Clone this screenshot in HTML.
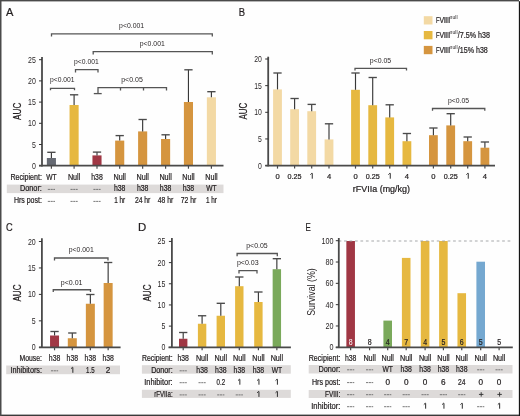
<!DOCTYPE html>
<html><head><meta charset="utf-8"><style>
html,body{margin:0;padding:0;background:#fff;}
body{width:520px;height:416px;overflow:hidden;}
svg{display:block;font-family:"Liberation Sans", sans-serif;}
text.t{stroke:#231f20;stroke-width:0.22px;}
text.k{stroke:none;}
svg{will-change:transform;}
</style></head><body>
<svg width="520" height="416" viewBox="0 0 520 416">
<rect x="0" y="0" width="520" height="416" fill="#fefefe"/>
<text class="t" x="5.90" y="15.90" font-size="11" fill="#231f20" textLength="7.40" lengthAdjust="spacingAndGlyphs" >A</text>
<rect x="46.85" y="158.00" width="9.10" height="7.70" fill="#666a73"/>
<line x1="51.40" y1="152.30" x2="51.40" y2="158.00" stroke="#383838" stroke-width="1.15" />
<line x1="47.25" y1="152.30" x2="55.55" y2="152.30" stroke="#4a4a4a" stroke-width="1.35" />
<rect x="69.55" y="105.00" width="9.10" height="60.70" fill="#e6b840"/>
<line x1="74.10" y1="94.80" x2="74.10" y2="105.00" stroke="#383838" stroke-width="1.15" />
<line x1="69.95" y1="94.80" x2="78.25" y2="94.80" stroke="#4a4a4a" stroke-width="1.35" />
<rect x="92.45" y="155.40" width="9.10" height="10.30" fill="#a03744"/>
<line x1="97.00" y1="152.10" x2="97.00" y2="155.40" stroke="#383838" stroke-width="1.15" />
<line x1="92.85" y1="152.10" x2="101.15" y2="152.10" stroke="#4a4a4a" stroke-width="1.35" />
<rect x="115.15" y="140.60" width="9.10" height="25.10" fill="#d5953f"/>
<line x1="119.70" y1="135.60" x2="119.70" y2="140.60" stroke="#383838" stroke-width="1.15" />
<line x1="115.55" y1="135.60" x2="123.85" y2="135.60" stroke="#4a4a4a" stroke-width="1.35" />
<rect x="138.10" y="131.40" width="9.10" height="34.30" fill="#d5953f"/>
<line x1="142.65" y1="119.50" x2="142.65" y2="131.40" stroke="#383838" stroke-width="1.15" />
<line x1="138.50" y1="119.50" x2="146.80" y2="119.50" stroke="#4a4a4a" stroke-width="1.35" />
<rect x="161.05" y="139.00" width="9.10" height="26.70" fill="#d5953f"/>
<line x1="165.60" y1="134.80" x2="165.60" y2="139.00" stroke="#383838" stroke-width="1.15" />
<line x1="161.45" y1="134.80" x2="169.75" y2="134.80" stroke="#4a4a4a" stroke-width="1.35" />
<rect x="183.90" y="102.00" width="9.10" height="63.70" fill="#d5953f"/>
<line x1="188.45" y1="69.80" x2="188.45" y2="102.00" stroke="#383838" stroke-width="1.15" />
<line x1="184.30" y1="69.80" x2="192.60" y2="69.80" stroke="#4a4a4a" stroke-width="1.35" />
<rect x="206.85" y="97.30" width="9.10" height="68.40" fill="#f3d9a4"/>
<line x1="211.40" y1="91.70" x2="211.40" y2="97.30" stroke="#383838" stroke-width="1.15" />
<line x1="207.25" y1="91.70" x2="215.55" y2="91.70" stroke="#4a4a4a" stroke-width="1.35" />
<line x1="51.40" y1="165.70" x2="51.40" y2="168.70" stroke="#4a4a4a" stroke-width="1.2" />
<line x1="74.10" y1="165.70" x2="74.10" y2="168.70" stroke="#4a4a4a" stroke-width="1.2" />
<line x1="97.00" y1="165.70" x2="97.00" y2="168.70" stroke="#4a4a4a" stroke-width="1.2" />
<line x1="119.70" y1="165.70" x2="119.70" y2="168.70" stroke="#4a4a4a" stroke-width="1.2" />
<line x1="142.65" y1="165.70" x2="142.65" y2="168.70" stroke="#4a4a4a" stroke-width="1.2" />
<line x1="165.60" y1="165.70" x2="165.60" y2="168.70" stroke="#4a4a4a" stroke-width="1.2" />
<line x1="188.45" y1="165.70" x2="188.45" y2="168.70" stroke="#4a4a4a" stroke-width="1.2" />
<line x1="211.40" y1="165.70" x2="211.40" y2="168.70" stroke="#4a4a4a" stroke-width="1.2" />
<line x1="42.00" y1="57.00" x2="42.00" y2="166.45" stroke="#4a4a4a" stroke-width="1.8" />
<line x1="39.00" y1="165.70" x2="42.00" y2="165.70" stroke="#333" stroke-width="1.0" />
<text class="k" x="32.00" y="168.70" font-size="9" fill="#231f20" textLength="3.90" lengthAdjust="spacingAndGlyphs">0</text>
<line x1="39.00" y1="144.50" x2="42.00" y2="144.50" stroke="#333" stroke-width="1.0" />
<text class="k" x="32.00" y="147.50" font-size="9" fill="#231f20" textLength="3.90" lengthAdjust="spacingAndGlyphs">5</text>
<line x1="39.00" y1="123.30" x2="42.00" y2="123.30" stroke="#333" stroke-width="1.0" />
<text class="k" x="28.10" y="126.30" font-size="9" fill="#231f20" textLength="7.80" lengthAdjust="spacingAndGlyphs">10</text>
<line x1="39.00" y1="102.10" x2="42.00" y2="102.10" stroke="#333" stroke-width="1.0" />
<text class="k" x="28.10" y="105.10" font-size="9" fill="#231f20" textLength="7.80" lengthAdjust="spacingAndGlyphs">15</text>
<line x1="39.00" y1="80.90" x2="42.00" y2="80.90" stroke="#333" stroke-width="1.0" />
<text class="k" x="28.10" y="83.90" font-size="9" fill="#231f20" textLength="7.80" lengthAdjust="spacingAndGlyphs">20</text>
<line x1="39.00" y1="59.70" x2="42.00" y2="59.70" stroke="#333" stroke-width="1.0" />
<text class="k" x="28.10" y="62.70" font-size="9" fill="#231f20" textLength="7.80" lengthAdjust="spacingAndGlyphs">25</text>
<line x1="39.00" y1="165.70" x2="223.50" y2="165.70" stroke="#4a4a4a" stroke-width="1.8" />
<text class="t" transform="translate(21.00,111.30) rotate(-90)" x="-8.60" y="0" font-size="10.6" fill="#231f20" textLength="17.20" lengthAdjust="spacingAndGlyphs">AUC</text>
<path d="M51.50,36.60 L51.50,33.80 L212.30,33.80 L212.30,36.60" fill="none" stroke="#555555" stroke-width="1.3"/>
<text class="p" x="119.10" y="28.20" font-size="7.6" fill="#231f20" textLength="25.00" lengthAdjust="spacingAndGlyphs" >p&lt;0.001</text>
<path d="M93.20,54.50 L93.20,51.70 L212.30,51.70 L212.30,54.50" fill="none" stroke="#555555" stroke-width="1.3"/>
<text class="p" x="139.80" y="46.20" font-size="7.6" fill="#231f20" textLength="25.00" lengthAdjust="spacingAndGlyphs" >p&lt;0.001</text>
<path d="M75.50,72.50 L75.50,69.70 L98.00,69.70 L98.00,72.50" fill="none" stroke="#555555" stroke-width="1.3"/>
<text class="p" x="74.10" y="64.30" font-size="7.6" fill="#231f20" textLength="24.70" lengthAdjust="spacingAndGlyphs" >p&lt;0.001</text>
<path d="M50.50,90.30 L50.50,88.30 L74.50,88.30 L74.50,90.30" fill="none" stroke="#555555" stroke-width="1.3"/>
<text class="p" x="50.00" y="82.10" font-size="7.6" fill="#231f20" textLength="24.60" lengthAdjust="spacingAndGlyphs" >p&lt;0.001</text>
<path d="M98,93.6 L98,87.7 L166.5,87.7 L166.5,90.5" fill="none" stroke="#555555" stroke-width="1.3"/>
<line x1="93.80" y1="93.60" x2="101.70" y2="93.60" stroke="#555555" stroke-width="1.3" />
<line x1="120.50" y1="87.70" x2="120.50" y2="90.50" stroke="#555555" stroke-width="1.3" />
<line x1="143.50" y1="87.70" x2="143.50" y2="90.50" stroke="#555555" stroke-width="1.3" />
<text class="p" x="121.20" y="82.40" font-size="7.6" fill="#231f20" textLength="21.60" lengthAdjust="spacingAndGlyphs" >p&lt;0.05</text>
<rect x="6.80" y="184.60" width="216.70" height="8.50" fill="#dddad9"/>
<text class="t" x="10.40" y="179.50" font-size="8.2" fill="#231f20" textLength="31.50" lengthAdjust="spacingAndGlyphs">Recipient:</text>
<text class="t" x="19.90" y="191.40" font-size="8.2" fill="#231f20" textLength="22.00" lengthAdjust="spacingAndGlyphs">Donor:</text>
<text class="t" x="13.90" y="203.40" font-size="8.2" fill="#231f20" textLength="28.00" lengthAdjust="spacingAndGlyphs">Hrs post:</text>
<text class="t" x="46.20" y="179.50" font-size="8.2" fill="#231f20" textLength="10.40" lengthAdjust="spacingAndGlyphs">WT</text>
<text class="t" x="67.90" y="179.50" font-size="8.2" fill="#231f20" textLength="12.40" lengthAdjust="spacingAndGlyphs">Null</text>
<text class="t" x="91.25" y="179.50" font-size="8.2" fill="#231f20" textLength="11.50" lengthAdjust="spacingAndGlyphs">h38</text>
<text class="t" x="113.50" y="179.50" font-size="8.2" fill="#231f20" textLength="12.40" lengthAdjust="spacingAndGlyphs">Null</text>
<text class="t" x="136.45" y="179.50" font-size="8.2" fill="#231f20" textLength="12.40" lengthAdjust="spacingAndGlyphs">Null</text>
<text class="t" x="159.40" y="179.50" font-size="8.2" fill="#231f20" textLength="12.40" lengthAdjust="spacingAndGlyphs">Null</text>
<text class="t" x="182.25" y="179.50" font-size="8.2" fill="#231f20" textLength="12.40" lengthAdjust="spacingAndGlyphs">Null</text>
<text class="t" x="205.20" y="179.50" font-size="8.2" fill="#231f20" textLength="12.40" lengthAdjust="spacingAndGlyphs">Null</text>
<line x1="47.80" y1="189.40" x2="55.00" y2="189.40" stroke="#6a6a6a" stroke-width="0.9" stroke-dasharray="2.2,0.55"/>
<line x1="70.50" y1="189.40" x2="77.70" y2="189.40" stroke="#6a6a6a" stroke-width="0.9" stroke-dasharray="2.2,0.55"/>
<line x1="93.40" y1="189.40" x2="100.60" y2="189.40" stroke="#6a6a6a" stroke-width="0.9" stroke-dasharray="2.2,0.55"/>
<text class="t" x="113.95" y="191.40" font-size="8.2" fill="#231f20" textLength="11.50" lengthAdjust="spacingAndGlyphs">h38</text>
<text class="t" x="136.90" y="191.40" font-size="8.2" fill="#231f20" textLength="11.50" lengthAdjust="spacingAndGlyphs">h38</text>
<text class="t" x="159.85" y="191.40" font-size="8.2" fill="#231f20" textLength="11.50" lengthAdjust="spacingAndGlyphs">h38</text>
<text class="t" x="182.70" y="191.40" font-size="8.2" fill="#231f20" textLength="11.50" lengthAdjust="spacingAndGlyphs">h38</text>
<text class="t" x="206.20" y="191.40" font-size="8.2" fill="#231f20" textLength="10.40" lengthAdjust="spacingAndGlyphs">WT</text>
<line x1="47.80" y1="201.40" x2="55.00" y2="201.40" stroke="#6a6a6a" stroke-width="0.9" stroke-dasharray="2.2,0.55"/>
<line x1="70.50" y1="201.40" x2="77.70" y2="201.40" stroke="#6a6a6a" stroke-width="0.9" stroke-dasharray="2.2,0.55"/>
<line x1="93.40" y1="201.40" x2="100.60" y2="201.40" stroke="#6a6a6a" stroke-width="0.9" stroke-dasharray="2.2,0.55"/>
<text class="t" x="114.20" y="203.40" font-size="8.2" fill="#231f20" textLength="11.00" lengthAdjust="spacingAndGlyphs">1 hr</text>
<text class="t" x="134.90" y="203.40" font-size="8.2" fill="#231f20" textLength="15.50" lengthAdjust="spacingAndGlyphs">24 hr</text>
<text class="t" x="157.85" y="203.40" font-size="8.2" fill="#231f20" textLength="15.50" lengthAdjust="spacingAndGlyphs">48 hr</text>
<text class="t" x="180.70" y="203.40" font-size="8.2" fill="#231f20" textLength="15.50" lengthAdjust="spacingAndGlyphs">72 hr</text>
<text class="t" x="205.90" y="203.40" font-size="8.2" fill="#231f20" textLength="11.00" lengthAdjust="spacingAndGlyphs">1 hr</text>
<text class="t" x="238.70" y="15.90" font-size="11" fill="#231f20" textLength="6.30" lengthAdjust="spacingAndGlyphs" >B</text>
<rect x="273.10" y="89.40" width="8.80" height="76.20" fill="#f3d9a4"/>
<line x1="277.50" y1="73.00" x2="277.50" y2="89.40" stroke="#383838" stroke-width="1.15" />
<line x1="273.35" y1="73.00" x2="281.65" y2="73.00" stroke="#4a4a4a" stroke-width="1.35" />
<rect x="290.20" y="109.20" width="8.80" height="56.40" fill="#f3d9a4"/>
<line x1="294.60" y1="98.50" x2="294.60" y2="109.20" stroke="#383838" stroke-width="1.15" />
<line x1="290.45" y1="98.50" x2="298.75" y2="98.50" stroke="#4a4a4a" stroke-width="1.35" />
<rect x="307.30" y="111.20" width="8.80" height="54.40" fill="#f3d9a4"/>
<line x1="311.70" y1="104.40" x2="311.70" y2="111.20" stroke="#383838" stroke-width="1.15" />
<line x1="307.55" y1="104.40" x2="315.85" y2="104.40" stroke="#4a4a4a" stroke-width="1.35" />
<rect x="324.60" y="139.40" width="8.80" height="26.20" fill="#f3d9a4"/>
<line x1="329.00" y1="123.80" x2="329.00" y2="139.40" stroke="#383838" stroke-width="1.15" />
<line x1="324.85" y1="123.80" x2="333.15" y2="123.80" stroke="#4a4a4a" stroke-width="1.35" />
<rect x="351.10" y="89.80" width="8.80" height="75.80" fill="#e6b840"/>
<line x1="355.50" y1="73.00" x2="355.50" y2="89.80" stroke="#383838" stroke-width="1.15" />
<line x1="351.35" y1="73.00" x2="359.65" y2="73.00" stroke="#4a4a4a" stroke-width="1.35" />
<rect x="368.30" y="105.20" width="8.80" height="60.40" fill="#e6b840"/>
<line x1="372.70" y1="77.50" x2="372.70" y2="105.20" stroke="#383838" stroke-width="1.15" />
<line x1="368.55" y1="77.50" x2="376.85" y2="77.50" stroke="#4a4a4a" stroke-width="1.35" />
<rect x="385.30" y="117.40" width="8.80" height="48.20" fill="#e6b840"/>
<line x1="389.70" y1="104.80" x2="389.70" y2="117.40" stroke="#383838" stroke-width="1.15" />
<line x1="385.55" y1="104.80" x2="393.85" y2="104.80" stroke="#4a4a4a" stroke-width="1.35" />
<rect x="402.50" y="141.20" width="8.80" height="24.40" fill="#e6b840"/>
<line x1="406.90" y1="133.50" x2="406.90" y2="141.20" stroke="#383838" stroke-width="1.15" />
<line x1="402.75" y1="133.50" x2="411.05" y2="133.50" stroke="#4a4a4a" stroke-width="1.35" />
<rect x="429.00" y="135.20" width="8.80" height="30.40" fill="#d5953f"/>
<line x1="433.40" y1="128.00" x2="433.40" y2="135.20" stroke="#383838" stroke-width="1.15" />
<line x1="429.25" y1="128.00" x2="437.55" y2="128.00" stroke="#4a4a4a" stroke-width="1.35" />
<rect x="446.30" y="125.40" width="8.80" height="40.20" fill="#d5953f"/>
<line x1="450.70" y1="113.70" x2="450.70" y2="125.40" stroke="#383838" stroke-width="1.15" />
<line x1="446.55" y1="113.70" x2="454.85" y2="113.70" stroke="#4a4a4a" stroke-width="1.35" />
<rect x="463.30" y="141.20" width="8.80" height="24.40" fill="#d5953f"/>
<line x1="467.70" y1="137.00" x2="467.70" y2="141.20" stroke="#383838" stroke-width="1.15" />
<line x1="463.55" y1="137.00" x2="471.85" y2="137.00" stroke="#4a4a4a" stroke-width="1.35" />
<rect x="480.50" y="147.70" width="8.80" height="17.90" fill="#d5953f"/>
<line x1="484.90" y1="142.00" x2="484.90" y2="147.70" stroke="#383838" stroke-width="1.15" />
<line x1="480.75" y1="142.00" x2="489.05" y2="142.00" stroke="#4a4a4a" stroke-width="1.35" />
<line x1="277.50" y1="165.60" x2="277.50" y2="168.60" stroke="#4a4a4a" stroke-width="1.2" />
<line x1="294.60" y1="165.60" x2="294.60" y2="168.60" stroke="#4a4a4a" stroke-width="1.2" />
<line x1="311.70" y1="165.60" x2="311.70" y2="168.60" stroke="#4a4a4a" stroke-width="1.2" />
<line x1="329.00" y1="165.60" x2="329.00" y2="168.60" stroke="#4a4a4a" stroke-width="1.2" />
<line x1="355.50" y1="165.60" x2="355.50" y2="168.60" stroke="#4a4a4a" stroke-width="1.2" />
<line x1="372.70" y1="165.60" x2="372.70" y2="168.60" stroke="#4a4a4a" stroke-width="1.2" />
<line x1="389.70" y1="165.60" x2="389.70" y2="168.60" stroke="#4a4a4a" stroke-width="1.2" />
<line x1="406.90" y1="165.60" x2="406.90" y2="168.60" stroke="#4a4a4a" stroke-width="1.2" />
<line x1="433.40" y1="165.60" x2="433.40" y2="168.60" stroke="#4a4a4a" stroke-width="1.2" />
<line x1="450.70" y1="165.60" x2="450.70" y2="168.60" stroke="#4a4a4a" stroke-width="1.2" />
<line x1="467.70" y1="165.60" x2="467.70" y2="168.60" stroke="#4a4a4a" stroke-width="1.2" />
<line x1="484.90" y1="165.60" x2="484.90" y2="168.60" stroke="#4a4a4a" stroke-width="1.2" />
<line x1="268.20" y1="56.70" x2="268.20" y2="166.35" stroke="#4a4a4a" stroke-width="1.8" />
<line x1="265.20" y1="165.60" x2="268.20" y2="165.60" stroke="#333" stroke-width="1.0" />
<text class="k" x="258.10" y="168.60" font-size="8.3" fill="#231f20" textLength="3.80" lengthAdjust="spacingAndGlyphs">0</text>
<line x1="265.20" y1="138.95" x2="268.20" y2="138.95" stroke="#333" stroke-width="1.0" />
<text class="k" x="258.10" y="141.95" font-size="8.3" fill="#231f20" textLength="3.80" lengthAdjust="spacingAndGlyphs">5</text>
<line x1="265.20" y1="112.30" x2="268.20" y2="112.30" stroke="#333" stroke-width="1.0" />
<text class="k" x="254.30" y="115.30" font-size="8.3" fill="#231f20" textLength="7.60" lengthAdjust="spacingAndGlyphs">10</text>
<line x1="265.20" y1="85.65" x2="268.20" y2="85.65" stroke="#333" stroke-width="1.0" />
<text class="k" x="254.30" y="88.65" font-size="8.3" fill="#231f20" textLength="7.60" lengthAdjust="spacingAndGlyphs">15</text>
<line x1="265.20" y1="59.00" x2="268.20" y2="59.00" stroke="#333" stroke-width="1.0" />
<text class="k" x="254.30" y="62.00" font-size="8.3" fill="#231f20" textLength="7.60" lengthAdjust="spacingAndGlyphs">20</text>
<line x1="265.30" y1="165.60" x2="495.00" y2="165.60" stroke="#4a4a4a" stroke-width="1.8" />
<text class="t" transform="translate(247.20,111.15) rotate(-90)" x="-8.45" y="0" font-size="10.6" fill="#231f20" textLength="16.90" lengthAdjust="spacingAndGlyphs">AUC</text>
<text class="t" x="277.50" y="178.70" font-size="7.6" fill="#231f20" text-anchor="middle">0</text>
<text class="t" x="287.60" y="178.70" font-size="7.6" fill="#231f20" textLength="14.00" lengthAdjust="spacingAndGlyphs">0.25</text>
<path d="M312.25,178.70 L312.25,173.30 L311.75,173.30 L310.40,174.60" fill="none" stroke="#2a2a2a" stroke-width="1.0" stroke-linejoin="round"/>
<text class="t" x="329.00" y="178.70" font-size="7.6" fill="#231f20" text-anchor="middle">4</text>
<text class="t" x="355.50" y="178.70" font-size="7.6" fill="#231f20" text-anchor="middle">0</text>
<text class="t" x="365.70" y="178.70" font-size="7.6" fill="#231f20" textLength="14.00" lengthAdjust="spacingAndGlyphs">0.25</text>
<path d="M390.25,178.70 L390.25,173.30 L389.75,173.30 L388.40,174.60" fill="none" stroke="#2a2a2a" stroke-width="1.0" stroke-linejoin="round"/>
<text class="t" x="406.90" y="178.70" font-size="7.6" fill="#231f20" text-anchor="middle">4</text>
<text class="t" x="433.40" y="178.70" font-size="7.6" fill="#231f20" text-anchor="middle">0</text>
<text class="t" x="443.70" y="178.70" font-size="7.6" fill="#231f20" textLength="14.00" lengthAdjust="spacingAndGlyphs">0.25</text>
<path d="M468.25,178.70 L468.25,173.30 L467.75,173.30 L466.40,174.60" fill="none" stroke="#2a2a2a" stroke-width="1.0" stroke-linejoin="round"/>
<text class="t" x="484.90" y="178.70" font-size="7.6" fill="#231f20" text-anchor="middle">4</text>
<text class="t" x="352.80" y="192.20" font-size="8.6" fill="#231f20" textLength="57.20" lengthAdjust="spacingAndGlyphs" >rFVIIa (mg/kg)</text>
<path d="M355.00,70.50 L355.00,68.30 L406.50,68.30 L406.50,70.50" fill="none" stroke="#555555" stroke-width="1.3"/>
<text class="p" x="369.80" y="62.80" font-size="7.6" fill="#231f20" textLength="21.40" lengthAdjust="spacingAndGlyphs" >p&lt;0.05</text>
<path d="M432.50,110.80 L432.50,108.50 L484.80,108.50 L484.80,110.80" fill="none" stroke="#555555" stroke-width="1.3"/>
<text class="p" x="447.90" y="102.80" font-size="7.6" fill="#231f20" textLength="21.10" lengthAdjust="spacingAndGlyphs" >p&lt;0.05</text>
<rect x="423.80" y="16.20" width="8.70" height="8.30" fill="#f3d9a4"/>
<rect x="423.80" y="31.00" width="8.70" height="8.30" fill="#e6b840"/>
<rect x="423.80" y="45.90" width="8.70" height="8.30" fill="#d5953f"/>
<text class="t" x="436.0" y="23.20" font-size="8.3" fill="#231f20" textLength="3.5" lengthAdjust="spacingAndGlyphs">F</text>
<text class="t" x="439.4" y="23.20" font-size="8.3" fill="#231f20" textLength="4.6" lengthAdjust="spacingAndGlyphs">V</text>
<text class="t" x="443.8 445.85 447.9" y="23.20" font-size="8.3" fill="#231f20">III</text>
<text class="p" x="449.60" y="19.30" font-size="4.6" fill="#231f20" textLength="8.00" lengthAdjust="spacingAndGlyphs" >null</text>
<text class="t" x="436.0" y="38.00" font-size="8.3" fill="#231f20" textLength="3.5" lengthAdjust="spacingAndGlyphs">F</text>
<text class="t" x="439.4" y="38.00" font-size="8.3" fill="#231f20" textLength="4.6" lengthAdjust="spacingAndGlyphs">V</text>
<text class="t" x="443.8 445.85 447.9" y="38.00" font-size="8.3" fill="#231f20">III</text>
<text class="p" x="449.60" y="34.10" font-size="4.6" fill="#231f20" textLength="8.00" lengthAdjust="spacingAndGlyphs" >null</text>
<text class="t" x="457.80" y="38.00" font-size="8.3" fill="#231f20" textLength="32.20" lengthAdjust="spacingAndGlyphs" >/7.5% h38</text>
<text class="t" x="436.0" y="52.60" font-size="8.3" fill="#231f20" textLength="3.5" lengthAdjust="spacingAndGlyphs">F</text>
<text class="t" x="439.4" y="52.60" font-size="8.3" fill="#231f20" textLength="4.6" lengthAdjust="spacingAndGlyphs">V</text>
<text class="t" x="443.8 445.85 447.9" y="52.60" font-size="8.3" fill="#231f20">III</text>
<text class="p" x="449.60" y="48.70" font-size="4.6" fill="#231f20" textLength="8.00" lengthAdjust="spacingAndGlyphs" >null</text>
<text class="t" x="457.80" y="52.60" font-size="8.3" fill="#231f20" textLength="30.00" lengthAdjust="spacingAndGlyphs" >/15% h38</text>
<text class="t" x="6.00" y="231.00" font-size="11.5" fill="#231f20" textLength="6.70" lengthAdjust="spacingAndGlyphs" >C</text>
<rect x="50.05" y="335.50" width="9.00" height="11.80" fill="#a03744"/>
<line x1="54.55" y1="331.50" x2="54.55" y2="335.50" stroke="#383838" stroke-width="1.15" />
<line x1="50.40" y1="331.50" x2="58.70" y2="331.50" stroke="#4a4a4a" stroke-width="1.35" />
<rect x="67.80" y="338.25" width="9.00" height="9.05" fill="#d5953f"/>
<line x1="72.30" y1="333.00" x2="72.30" y2="338.25" stroke="#383838" stroke-width="1.15" />
<line x1="68.15" y1="333.00" x2="76.45" y2="333.00" stroke="#4a4a4a" stroke-width="1.35" />
<rect x="85.85" y="303.75" width="9.00" height="43.55" fill="#d5953f"/>
<line x1="90.35" y1="294.50" x2="90.35" y2="303.75" stroke="#383838" stroke-width="1.15" />
<line x1="86.20" y1="294.50" x2="94.50" y2="294.50" stroke="#4a4a4a" stroke-width="1.35" />
<rect x="103.65" y="283.00" width="9.00" height="64.30" fill="#d5953f"/>
<line x1="108.15" y1="262.50" x2="108.15" y2="283.00" stroke="#383838" stroke-width="1.15" />
<line x1="104.00" y1="262.50" x2="112.30" y2="262.50" stroke="#4a4a4a" stroke-width="1.35" />
<line x1="54.55" y1="347.30" x2="54.55" y2="350.30" stroke="#4a4a4a" stroke-width="1.2" />
<line x1="72.30" y1="347.30" x2="72.30" y2="350.30" stroke="#4a4a4a" stroke-width="1.2" />
<line x1="90.35" y1="347.30" x2="90.35" y2="350.30" stroke="#4a4a4a" stroke-width="1.2" />
<line x1="108.15" y1="347.30" x2="108.15" y2="350.30" stroke="#4a4a4a" stroke-width="1.2" />
<line x1="41.90" y1="238.20" x2="41.90" y2="348.05" stroke="#4a4a4a" stroke-width="1.8" />
<line x1="38.90" y1="347.30" x2="41.90" y2="347.30" stroke="#333" stroke-width="1.0" />
<text class="k" x="31.80" y="350.30" font-size="9" fill="#231f20" textLength="3.90" lengthAdjust="spacingAndGlyphs">0</text>
<line x1="38.90" y1="320.85" x2="41.90" y2="320.85" stroke="#333" stroke-width="1.0" />
<text class="k" x="31.80" y="323.85" font-size="9" fill="#231f20" textLength="3.90" lengthAdjust="spacingAndGlyphs">5</text>
<line x1="38.90" y1="294.40" x2="41.90" y2="294.40" stroke="#333" stroke-width="1.0" />
<text class="k" x="27.90" y="297.40" font-size="9" fill="#231f20" textLength="7.80" lengthAdjust="spacingAndGlyphs">10</text>
<line x1="38.90" y1="267.95" x2="41.90" y2="267.95" stroke="#333" stroke-width="1.0" />
<text class="k" x="27.90" y="270.95" font-size="9" fill="#231f20" textLength="7.80" lengthAdjust="spacingAndGlyphs">15</text>
<line x1="38.90" y1="241.50" x2="41.90" y2="241.50" stroke="#333" stroke-width="1.0" />
<text class="k" x="27.90" y="244.50" font-size="9" fill="#231f20" textLength="7.80" lengthAdjust="spacingAndGlyphs">20</text>
<line x1="39.00" y1="347.30" x2="120.60" y2="347.30" stroke="#4a4a4a" stroke-width="1.8" />
<text class="t" transform="translate(20.90,293.00) rotate(-90)" x="-8.60" y="0" font-size="10.6" fill="#231f20" textLength="17.20" lengthAdjust="spacingAndGlyphs">AUC</text>
<path d="M54.50,260.50 L54.50,258.00 L108.00,258.00 L108.00,260.50" fill="none" stroke="#555555" stroke-width="1.3"/>
<text class="p" x="68.75" y="252.20" font-size="7.6" fill="#231f20" textLength="25.00" lengthAdjust="spacingAndGlyphs" >p&lt;0.001</text>
<path d="M53.25,292.00 L53.25,289.75 L90.50,289.75 L90.50,292.00" fill="none" stroke="#555555" stroke-width="1.3"/>
<text class="p" x="60.75" y="284.70" font-size="7.6" fill="#231f20" textLength="21.75" lengthAdjust="spacingAndGlyphs" >p&lt;0.01</text>
<rect x="6.20" y="365.50" width="113.80" height="8.70" fill="#dddad9"/>
<text class="t" x="19.50" y="360.90" font-size="8.2" fill="#231f20" textLength="22.50" lengthAdjust="spacingAndGlyphs">Mouse:</text>
<text class="t" x="10.50" y="372.80" font-size="8.2" fill="#231f20" textLength="31.50" lengthAdjust="spacingAndGlyphs">Inhibitors:</text>
<text class="t" x="48.80" y="360.90" font-size="8.2" fill="#231f20" textLength="11.50" lengthAdjust="spacingAndGlyphs">h38</text>
<text class="t" x="66.55" y="360.90" font-size="8.2" fill="#231f20" textLength="11.50" lengthAdjust="spacingAndGlyphs">h38</text>
<text class="t" x="84.60" y="360.90" font-size="8.2" fill="#231f20" textLength="11.50" lengthAdjust="spacingAndGlyphs">h38</text>
<text class="t" x="102.40" y="360.90" font-size="8.2" fill="#231f20" textLength="11.50" lengthAdjust="spacingAndGlyphs">h38</text>
<line x1="50.95" y1="370.80" x2="58.15" y2="370.80" stroke="#6a6a6a" stroke-width="0.9" stroke-dasharray="2.2,0.55"/>
<path d="M72.85,372.80 L72.85,367.40 L72.35,367.40 L71.00,368.70" fill="none" stroke="#2a2a2a" stroke-width="1.0" stroke-linejoin="round"/>
<text class="t" x="86.10" y="372.80" font-size="8.2" fill="#231f20" textLength="8.50" lengthAdjust="spacingAndGlyphs">1.5</text>
<text class="t" x="108.15" y="372.80" font-size="8.2" fill="#231f20" text-anchor="middle">2</text>
<text class="t" x="138.00" y="231.00" font-size="11" fill="#231f20" textLength="8.25" lengthAdjust="spacingAndGlyphs" >D</text>
<rect x="179.00" y="338.75" width="8.40" height="8.55" fill="#a03744"/>
<line x1="183.20" y1="332.50" x2="183.20" y2="338.75" stroke="#383838" stroke-width="1.15" />
<line x1="179.05" y1="332.50" x2="187.35" y2="332.50" stroke="#4a4a4a" stroke-width="1.35" />
<rect x="197.90" y="323.75" width="8.40" height="23.55" fill="#e6b840"/>
<line x1="202.10" y1="315.75" x2="202.10" y2="323.75" stroke="#383838" stroke-width="1.15" />
<line x1="197.95" y1="315.75" x2="206.25" y2="315.75" stroke="#4a4a4a" stroke-width="1.35" />
<rect x="216.60" y="315.75" width="8.40" height="31.55" fill="#e6b840"/>
<line x1="220.80" y1="303.30" x2="220.80" y2="315.75" stroke="#383838" stroke-width="1.15" />
<line x1="216.65" y1="303.30" x2="224.95" y2="303.30" stroke="#4a4a4a" stroke-width="1.35" />
<rect x="235.10" y="286.20" width="8.40" height="61.10" fill="#e6b840"/>
<line x1="239.30" y1="277.00" x2="239.30" y2="286.20" stroke="#383838" stroke-width="1.15" />
<line x1="235.15" y1="277.00" x2="243.45" y2="277.00" stroke="#4a4a4a" stroke-width="1.35" />
<rect x="254.20" y="302.00" width="8.40" height="45.30" fill="#e6b840"/>
<line x1="258.40" y1="292.00" x2="258.40" y2="302.00" stroke="#383838" stroke-width="1.15" />
<line x1="254.25" y1="292.00" x2="262.55" y2="292.00" stroke="#4a4a4a" stroke-width="1.35" />
<rect x="272.65" y="269.20" width="8.40" height="78.10" fill="#7aa95b"/>
<line x1="276.85" y1="258.70" x2="276.85" y2="269.20" stroke="#383838" stroke-width="1.15" />
<line x1="272.70" y1="258.70" x2="281.00" y2="258.70" stroke="#4a4a4a" stroke-width="1.35" />
<line x1="183.20" y1="347.30" x2="183.20" y2="350.30" stroke="#4a4a4a" stroke-width="1.2" />
<line x1="202.10" y1="347.30" x2="202.10" y2="350.30" stroke="#4a4a4a" stroke-width="1.2" />
<line x1="220.80" y1="347.30" x2="220.80" y2="350.30" stroke="#4a4a4a" stroke-width="1.2" />
<line x1="239.30" y1="347.30" x2="239.30" y2="350.30" stroke="#4a4a4a" stroke-width="1.2" />
<line x1="258.40" y1="347.30" x2="258.40" y2="350.30" stroke="#4a4a4a" stroke-width="1.2" />
<line x1="276.85" y1="347.30" x2="276.85" y2="350.30" stroke="#4a4a4a" stroke-width="1.2" />
<line x1="171.90" y1="238.00" x2="171.90" y2="348.05" stroke="#4a4a4a" stroke-width="1.8" />
<line x1="168.90" y1="347.30" x2="171.90" y2="347.30" stroke="#333" stroke-width="1.0" />
<text class="k" x="161.40" y="350.30" font-size="9" fill="#231f20" textLength="3.90" lengthAdjust="spacingAndGlyphs">0</text>
<line x1="168.90" y1="326.12" x2="171.90" y2="326.12" stroke="#333" stroke-width="1.0" />
<text class="k" x="161.40" y="329.12" font-size="9" fill="#231f20" textLength="3.90" lengthAdjust="spacingAndGlyphs">5</text>
<line x1="168.90" y1="304.95" x2="171.90" y2="304.95" stroke="#333" stroke-width="1.0" />
<text class="k" x="157.50" y="307.95" font-size="9" fill="#231f20" textLength="7.80" lengthAdjust="spacingAndGlyphs">10</text>
<line x1="168.90" y1="283.77" x2="171.90" y2="283.77" stroke="#333" stroke-width="1.0" />
<text class="k" x="157.50" y="286.77" font-size="9" fill="#231f20" textLength="7.80" lengthAdjust="spacingAndGlyphs">15</text>
<line x1="168.90" y1="262.60" x2="171.90" y2="262.60" stroke="#333" stroke-width="1.0" />
<text class="k" x="157.50" y="265.60" font-size="9" fill="#231f20" textLength="7.80" lengthAdjust="spacingAndGlyphs">20</text>
<line x1="168.90" y1="241.43" x2="171.90" y2="241.43" stroke="#333" stroke-width="1.0" />
<text class="k" x="157.50" y="244.43" font-size="9" fill="#231f20" textLength="7.80" lengthAdjust="spacingAndGlyphs">25</text>
<line x1="168.50" y1="347.30" x2="290.90" y2="347.30" stroke="#4a4a4a" stroke-width="1.8" />
<text class="t" transform="translate(150.90,293.00) rotate(-90)" x="-8.60" y="0" font-size="10.6" fill="#231f20" textLength="17.20" lengthAdjust="spacingAndGlyphs">AUC</text>
<path d="M237.10,256.20 L237.10,253.50 L277.30,253.50 L277.30,256.20" fill="none" stroke="#555555" stroke-width="1.3"/>
<text class="p" x="246.20" y="247.70" font-size="7.6" fill="#231f20" textLength="21.50" lengthAdjust="spacingAndGlyphs" >p&lt;0.05</text>
<path d="M239.00,273.50 L239.00,270.60 L257.00,270.60 L257.00,273.50" fill="none" stroke="#555555" stroke-width="1.3"/>
<text class="p" x="236.90" y="265.10" font-size="7.6" fill="#231f20" textLength="21.80" lengthAdjust="spacingAndGlyphs" >p&lt;0.03</text>
<rect x="141.90" y="365.20" width="148.90" height="8.50" fill="#dddad9"/>
<rect x="141.90" y="389.80" width="148.90" height="8.10" fill="#dddad9"/>
<text class="t" x="141.90" y="360.80" font-size="8.2" fill="#231f20" textLength="30.80" lengthAdjust="spacingAndGlyphs">Recipient:</text>
<text class="t" x="151.20" y="372.80" font-size="8.2" fill="#231f20" textLength="21.50" lengthAdjust="spacingAndGlyphs">Donor:</text>
<text class="t" x="144.20" y="384.70" font-size="8.2" fill="#231f20" textLength="28.50" lengthAdjust="spacingAndGlyphs">Inhibitor:</text>
<text class="t" x="154.20" y="396.90" font-size="8.2" fill="#231f20" textLength="18.50" lengthAdjust="spacingAndGlyphs">rFVIIa:</text>
<text class="t" x="177.45" y="360.80" font-size="8.2" fill="#231f20" textLength="11.50" lengthAdjust="spacingAndGlyphs">h38</text>
<text class="t" x="195.90" y="360.80" font-size="8.2" fill="#231f20" textLength="12.40" lengthAdjust="spacingAndGlyphs">Null</text>
<text class="t" x="214.60" y="360.80" font-size="8.2" fill="#231f20" textLength="12.40" lengthAdjust="spacingAndGlyphs">Null</text>
<text class="t" x="233.10" y="360.80" font-size="8.2" fill="#231f20" textLength="12.40" lengthAdjust="spacingAndGlyphs">Null</text>
<text class="t" x="252.20" y="360.80" font-size="8.2" fill="#231f20" textLength="12.40" lengthAdjust="spacingAndGlyphs">Null</text>
<text class="t" x="270.65" y="360.80" font-size="8.2" fill="#231f20" textLength="12.40" lengthAdjust="spacingAndGlyphs">Null</text>
<line x1="179.60" y1="370.80" x2="186.80" y2="370.80" stroke="#6a6a6a" stroke-width="0.9" stroke-dasharray="2.2,0.55"/>
<text class="t" x="196.35" y="372.80" font-size="8.2" fill="#231f20" textLength="11.50" lengthAdjust="spacingAndGlyphs">h38</text>
<text class="t" x="215.05" y="372.80" font-size="8.2" fill="#231f20" textLength="11.50" lengthAdjust="spacingAndGlyphs">h38</text>
<text class="t" x="233.55" y="372.80" font-size="8.2" fill="#231f20" textLength="11.50" lengthAdjust="spacingAndGlyphs">h38</text>
<text class="t" x="252.65" y="372.80" font-size="8.2" fill="#231f20" textLength="11.50" lengthAdjust="spacingAndGlyphs">h38</text>
<text class="t" x="271.65" y="372.80" font-size="8.2" fill="#231f20" textLength="10.40" lengthAdjust="spacingAndGlyphs">WT</text>
<line x1="179.60" y1="382.70" x2="186.80" y2="382.70" stroke="#6a6a6a" stroke-width="0.9" stroke-dasharray="2.2,0.55"/>
<line x1="198.50" y1="382.70" x2="205.70" y2="382.70" stroke="#6a6a6a" stroke-width="0.9" stroke-dasharray="2.2,0.55"/>
<text class="t" x="216.55" y="384.70" font-size="8.2" fill="#231f20" textLength="8.50" lengthAdjust="spacingAndGlyphs">0.2</text>
<path d="M239.85,384.70 L239.85,379.30 L239.35,379.30 L238.00,380.60" fill="none" stroke="#2a2a2a" stroke-width="1.0" stroke-linejoin="round"/>
<path d="M258.95,384.70 L258.95,379.30 L258.45,379.30 L257.10,380.60" fill="none" stroke="#2a2a2a" stroke-width="1.0" stroke-linejoin="round"/>
<path d="M277.40,384.70 L277.40,379.30 L276.90,379.30 L275.55,380.60" fill="none" stroke="#2a2a2a" stroke-width="1.0" stroke-linejoin="round"/>
<line x1="179.60" y1="394.90" x2="186.80" y2="394.90" stroke="#6a6a6a" stroke-width="0.9" stroke-dasharray="2.2,0.55"/>
<line x1="198.50" y1="394.90" x2="205.70" y2="394.90" stroke="#6a6a6a" stroke-width="0.9" stroke-dasharray="2.2,0.55"/>
<line x1="217.20" y1="394.90" x2="224.40" y2="394.90" stroke="#6a6a6a" stroke-width="0.9" stroke-dasharray="2.2,0.55"/>
<line x1="235.70" y1="394.90" x2="242.90" y2="394.90" stroke="#6a6a6a" stroke-width="0.9" stroke-dasharray="2.2,0.55"/>
<path d="M258.95,396.90 L258.95,391.50 L258.45,391.50 L257.10,392.80" fill="none" stroke="#2a2a2a" stroke-width="1.0" stroke-linejoin="round"/>
<path d="M277.40,396.90 L277.40,391.50 L276.90,391.50 L275.55,392.80" fill="none" stroke="#2a2a2a" stroke-width="1.0" stroke-linejoin="round"/>
<text class="t" x="305.50" y="231.00" font-size="11" fill="#231f20" textLength="5.30" lengthAdjust="spacingAndGlyphs" >E</text>
<rect x="346.35" y="241.00" width="8.60" height="106.30" fill="#a03744"/>
<rect x="383.40" y="320.60" width="8.60" height="26.70" fill="#7aa95b"/>
<rect x="401.90" y="257.90" width="8.60" height="89.40" fill="#e6b840"/>
<rect x="420.80" y="241.00" width="8.60" height="106.30" fill="#e6b840"/>
<rect x="439.10" y="241.00" width="8.60" height="106.30" fill="#e6b840"/>
<rect x="457.45" y="293.20" width="8.60" height="54.10" fill="#e6b840"/>
<rect x="476.40" y="261.70" width="8.60" height="85.60" fill="#75a8d0"/>
<line x1="350.65" y1="347.30" x2="350.65" y2="350.30" stroke="#4a4a4a" stroke-width="1.2" />
<line x1="369.60" y1="347.30" x2="369.60" y2="350.30" stroke="#4a4a4a" stroke-width="1.2" />
<line x1="387.70" y1="347.30" x2="387.70" y2="350.30" stroke="#4a4a4a" stroke-width="1.2" />
<line x1="406.20" y1="347.30" x2="406.20" y2="350.30" stroke="#4a4a4a" stroke-width="1.2" />
<line x1="425.10" y1="347.30" x2="425.10" y2="350.30" stroke="#4a4a4a" stroke-width="1.2" />
<line x1="443.40" y1="347.30" x2="443.40" y2="350.30" stroke="#4a4a4a" stroke-width="1.2" />
<line x1="461.75" y1="347.30" x2="461.75" y2="350.30" stroke="#4a4a4a" stroke-width="1.2" />
<line x1="480.70" y1="347.30" x2="480.70" y2="350.30" stroke="#4a4a4a" stroke-width="1.2" />
<line x1="499.10" y1="347.30" x2="499.10" y2="350.30" stroke="#4a4a4a" stroke-width="1.2" />
<line x1="338.65" y1="241" x2="512.5" y2="241" stroke="#9c9ea2" stroke-opacity="0.9" stroke-width="1.1" stroke-dasharray="2.7,2.75"/>
<line x1="338.80" y1="238.00" x2="338.80" y2="348.05" stroke="#4a4a4a" stroke-width="1.8" />
<line x1="335.80" y1="347.30" x2="338.80" y2="347.30" stroke="#333" stroke-width="1.0" />
<text class="k" x="329.60" y="350.30" font-size="8.8" fill="#231f20" textLength="4.00" lengthAdjust="spacingAndGlyphs">0</text>
<line x1="335.80" y1="325.98" x2="338.80" y2="325.98" stroke="#333" stroke-width="1.0" />
<text class="k" x="325.60" y="328.98" font-size="8.8" fill="#231f20" textLength="8.00" lengthAdjust="spacingAndGlyphs">20</text>
<line x1="335.80" y1="304.66" x2="338.80" y2="304.66" stroke="#333" stroke-width="1.0" />
<text class="k" x="325.60" y="307.66" font-size="8.8" fill="#231f20" textLength="8.00" lengthAdjust="spacingAndGlyphs">40</text>
<line x1="335.80" y1="283.34" x2="338.80" y2="283.34" stroke="#333" stroke-width="1.0" />
<text class="k" x="325.60" y="286.34" font-size="8.8" fill="#231f20" textLength="8.00" lengthAdjust="spacingAndGlyphs">60</text>
<line x1="335.80" y1="262.02" x2="338.80" y2="262.02" stroke="#333" stroke-width="1.0" />
<text class="k" x="325.60" y="265.02" font-size="8.8" fill="#231f20" textLength="8.00" lengthAdjust="spacingAndGlyphs">80</text>
<line x1="335.80" y1="240.70" x2="338.80" y2="240.70" stroke="#333" stroke-width="1.0" />
<text class="k" x="321.60" y="243.70" font-size="8.8" fill="#231f20" textLength="12.00" lengthAdjust="spacingAndGlyphs">100</text>
<line x1="335.80" y1="347.30" x2="512.80" y2="347.30" stroke="#4a4a4a" stroke-width="1.8" />
<text class="k" transform="translate(314.90,292.05) rotate(-90)" x="-23.75" y="0" font-size="10.3" fill="#231f20" textLength="47.50" lengthAdjust="spacingAndGlyphs">Survival (%)</text>
<text class="p" x="348.70" y="345.10" font-size="8.8" fill="#fff" textLength="3.90" lengthAdjust="spacingAndGlyphs">8</text>
<text class="t" x="367.65" y="345.10" font-size="8.8" fill="#231f20" textLength="3.90" lengthAdjust="spacingAndGlyphs">8</text>
<text class="t" x="385.75" y="345.10" font-size="8.8" fill="#231f20" textLength="3.90" lengthAdjust="spacingAndGlyphs">4</text>
<text class="t" x="404.25" y="345.10" font-size="8.8" fill="#231f20" textLength="3.90" lengthAdjust="spacingAndGlyphs">7</text>
<text class="t" x="423.15" y="345.10" font-size="8.8" fill="#231f20" textLength="3.90" lengthAdjust="spacingAndGlyphs">4</text>
<text class="t" x="441.45" y="345.10" font-size="8.8" fill="#231f20" textLength="3.90" lengthAdjust="spacingAndGlyphs">5</text>
<text class="t" x="459.80" y="345.10" font-size="8.8" fill="#231f20" textLength="3.90" lengthAdjust="spacingAndGlyphs">6</text>
<text class="t" x="478.75" y="345.10" font-size="8.8" fill="#231f20" textLength="3.90" lengthAdjust="spacingAndGlyphs">5</text>
<text class="t" x="497.15" y="345.10" font-size="8.8" fill="#231f20" textLength="3.90" lengthAdjust="spacingAndGlyphs">5</text>
<rect x="308.70" y="365.00" width="203.80" height="8.50" fill="#dddad9"/>
<rect x="308.70" y="390.00" width="203.80" height="8.00" fill="#dddad9"/>
<text class="t" x="308.70" y="360.60" font-size="8.2" fill="#231f20" textLength="31.70" lengthAdjust="spacingAndGlyphs">Recipient:</text>
<text class="t" x="318.40" y="371.80" font-size="8.2" fill="#231f20" textLength="22.00" lengthAdjust="spacingAndGlyphs">Donor:</text>
<text class="t" x="311.90" y="384.60" font-size="8.2" fill="#231f20" textLength="28.50" lengthAdjust="spacingAndGlyphs">Hrs post:</text>
<text class="t" x="325.00" y="396.70" font-size="8.2" fill="#231f20" textLength="15.40" lengthAdjust="spacingAndGlyphs">FVIII:</text>
<text class="t" x="311.20" y="408.70" font-size="8.2" fill="#231f20" textLength="29.20" lengthAdjust="spacingAndGlyphs">Inhibitor:</text>
<text class="t" x="344.90" y="360.60" font-size="8.2" fill="#231f20" textLength="11.50" lengthAdjust="spacingAndGlyphs">h38</text>
<text class="t" x="363.40" y="360.60" font-size="8.2" fill="#231f20" textLength="12.40" lengthAdjust="spacingAndGlyphs">Null</text>
<text class="t" x="381.50" y="360.60" font-size="8.2" fill="#231f20" textLength="12.40" lengthAdjust="spacingAndGlyphs">Null</text>
<text class="t" x="400.00" y="360.60" font-size="8.2" fill="#231f20" textLength="12.40" lengthAdjust="spacingAndGlyphs">Null</text>
<text class="t" x="418.90" y="360.60" font-size="8.2" fill="#231f20" textLength="12.40" lengthAdjust="spacingAndGlyphs">Null</text>
<text class="t" x="437.20" y="360.60" font-size="8.2" fill="#231f20" textLength="12.40" lengthAdjust="spacingAndGlyphs">Null</text>
<text class="t" x="455.55" y="360.60" font-size="8.2" fill="#231f20" textLength="12.40" lengthAdjust="spacingAndGlyphs">Null</text>
<text class="t" x="474.50" y="360.60" font-size="8.2" fill="#231f20" textLength="12.40" lengthAdjust="spacingAndGlyphs">Null</text>
<text class="t" x="492.90" y="360.60" font-size="8.2" fill="#231f20" textLength="12.40" lengthAdjust="spacingAndGlyphs">Null</text>
<line x1="347.05" y1="369.80" x2="354.25" y2="369.80" stroke="#6a6a6a" stroke-width="0.9" stroke-dasharray="2.2,0.55"/>
<line x1="366.00" y1="369.80" x2="373.20" y2="369.80" stroke="#6a6a6a" stroke-width="0.9" stroke-dasharray="2.2,0.55"/>
<text class="t" x="382.50" y="371.80" font-size="8.2" fill="#231f20" textLength="10.40" lengthAdjust="spacingAndGlyphs">WT</text>
<text class="t" x="400.45" y="371.80" font-size="8.2" fill="#231f20" textLength="11.50" lengthAdjust="spacingAndGlyphs">h38</text>
<text class="t" x="419.35" y="371.80" font-size="8.2" fill="#231f20" textLength="11.50" lengthAdjust="spacingAndGlyphs">h38</text>
<text class="t" x="437.65" y="371.80" font-size="8.2" fill="#231f20" textLength="11.50" lengthAdjust="spacingAndGlyphs">h38</text>
<text class="t" x="456.00" y="371.80" font-size="8.2" fill="#231f20" textLength="11.50" lengthAdjust="spacingAndGlyphs">h38</text>
<line x1="477.10" y1="369.80" x2="484.30" y2="369.80" stroke="#6a6a6a" stroke-width="0.9" stroke-dasharray="2.2,0.55"/>
<line x1="495.50" y1="369.80" x2="502.70" y2="369.80" stroke="#6a6a6a" stroke-width="0.9" stroke-dasharray="2.2,0.55"/>
<line x1="347.05" y1="382.60" x2="354.25" y2="382.60" stroke="#6a6a6a" stroke-width="0.9" stroke-dasharray="2.2,0.55"/>
<line x1="366.00" y1="382.60" x2="373.20" y2="382.60" stroke="#6a6a6a" stroke-width="0.9" stroke-dasharray="2.2,0.55"/>
<text class="t" x="387.70" y="384.60" font-size="8.2" fill="#231f20" text-anchor="middle">0</text>
<text class="t" x="406.20" y="384.60" font-size="8.2" fill="#231f20" text-anchor="middle">0</text>
<text class="t" x="425.10" y="384.60" font-size="8.2" fill="#231f20" text-anchor="middle">0</text>
<text class="t" x="443.40" y="384.60" font-size="8.2" fill="#231f20" text-anchor="middle">6</text>
<text class="t" x="458.05" y="384.60" font-size="8.2" fill="#231f20" textLength="7.40" lengthAdjust="spacingAndGlyphs">24</text>
<text class="t" x="480.70" y="384.60" font-size="8.2" fill="#231f20" text-anchor="middle">0</text>
<text class="t" x="499.10" y="384.60" font-size="8.2" fill="#231f20" text-anchor="middle">0</text>
<line x1="347.05" y1="394.70" x2="354.25" y2="394.70" stroke="#6a6a6a" stroke-width="0.9" stroke-dasharray="2.2,0.55"/>
<line x1="366.00" y1="394.70" x2="373.20" y2="394.70" stroke="#6a6a6a" stroke-width="0.9" stroke-dasharray="2.2,0.55"/>
<line x1="384.10" y1="394.70" x2="391.30" y2="394.70" stroke="#6a6a6a" stroke-width="0.9" stroke-dasharray="2.2,0.55"/>
<line x1="402.60" y1="394.70" x2="409.80" y2="394.70" stroke="#6a6a6a" stroke-width="0.9" stroke-dasharray="2.2,0.55"/>
<line x1="421.50" y1="394.70" x2="428.70" y2="394.70" stroke="#6a6a6a" stroke-width="0.9" stroke-dasharray="2.2,0.55"/>
<line x1="439.80" y1="394.70" x2="447.00" y2="394.70" stroke="#6a6a6a" stroke-width="0.9" stroke-dasharray="2.2,0.55"/>
<line x1="458.15" y1="394.70" x2="465.35" y2="394.70" stroke="#6a6a6a" stroke-width="0.9" stroke-dasharray="2.2,0.55"/>
<path d="M478.95,394.40 H483.45 M481.20,392.20 V396.60" stroke="#333" stroke-width="0.95" fill="none"/>
<path d="M497.35,394.40 H501.85 M499.60,392.20 V396.60" stroke="#333" stroke-width="0.95" fill="none"/>
<line x1="347.05" y1="406.70" x2="354.25" y2="406.70" stroke="#6a6a6a" stroke-width="0.9" stroke-dasharray="2.2,0.55"/>
<line x1="366.00" y1="406.70" x2="373.20" y2="406.70" stroke="#6a6a6a" stroke-width="0.9" stroke-dasharray="2.2,0.55"/>
<line x1="384.10" y1="406.70" x2="391.30" y2="406.70" stroke="#6a6a6a" stroke-width="0.9" stroke-dasharray="2.2,0.55"/>
<line x1="402.60" y1="406.70" x2="409.80" y2="406.70" stroke="#6a6a6a" stroke-width="0.9" stroke-dasharray="2.2,0.55"/>
<path d="M425.65,408.70 L425.65,403.30 L425.15,403.30 L423.80,404.60" fill="none" stroke="#2a2a2a" stroke-width="1.0" stroke-linejoin="round"/>
<path d="M443.95,408.70 L443.95,403.30 L443.45,403.30 L442.10,404.60" fill="none" stroke="#2a2a2a" stroke-width="1.0" stroke-linejoin="round"/>
<path d="M462.30,408.70 L462.30,403.30 L461.80,403.30 L460.45,404.60" fill="none" stroke="#2a2a2a" stroke-width="1.0" stroke-linejoin="round"/>
<line x1="477.10" y1="406.70" x2="484.30" y2="406.70" stroke="#6a6a6a" stroke-width="0.9" stroke-dasharray="2.2,0.55"/>
<path d="M499.65,408.70 L499.65,403.30 L499.15,403.30 L497.80,404.60" fill="none" stroke="#2a2a2a" stroke-width="1.0" stroke-linejoin="round"/>
<rect x="0" y="0" width="519" height="1.4" fill="#4a4a4a"/>
<rect x="0" y="414.6" width="520" height="1.4" fill="#3a3a3a"/>
<rect x="0" y="0" width="1.5" height="416" fill="#4a4a4a"/>
<rect x="518.85" y="1.2" width="1.15" height="415" fill="#151515"/>
</svg>
</body></html>
